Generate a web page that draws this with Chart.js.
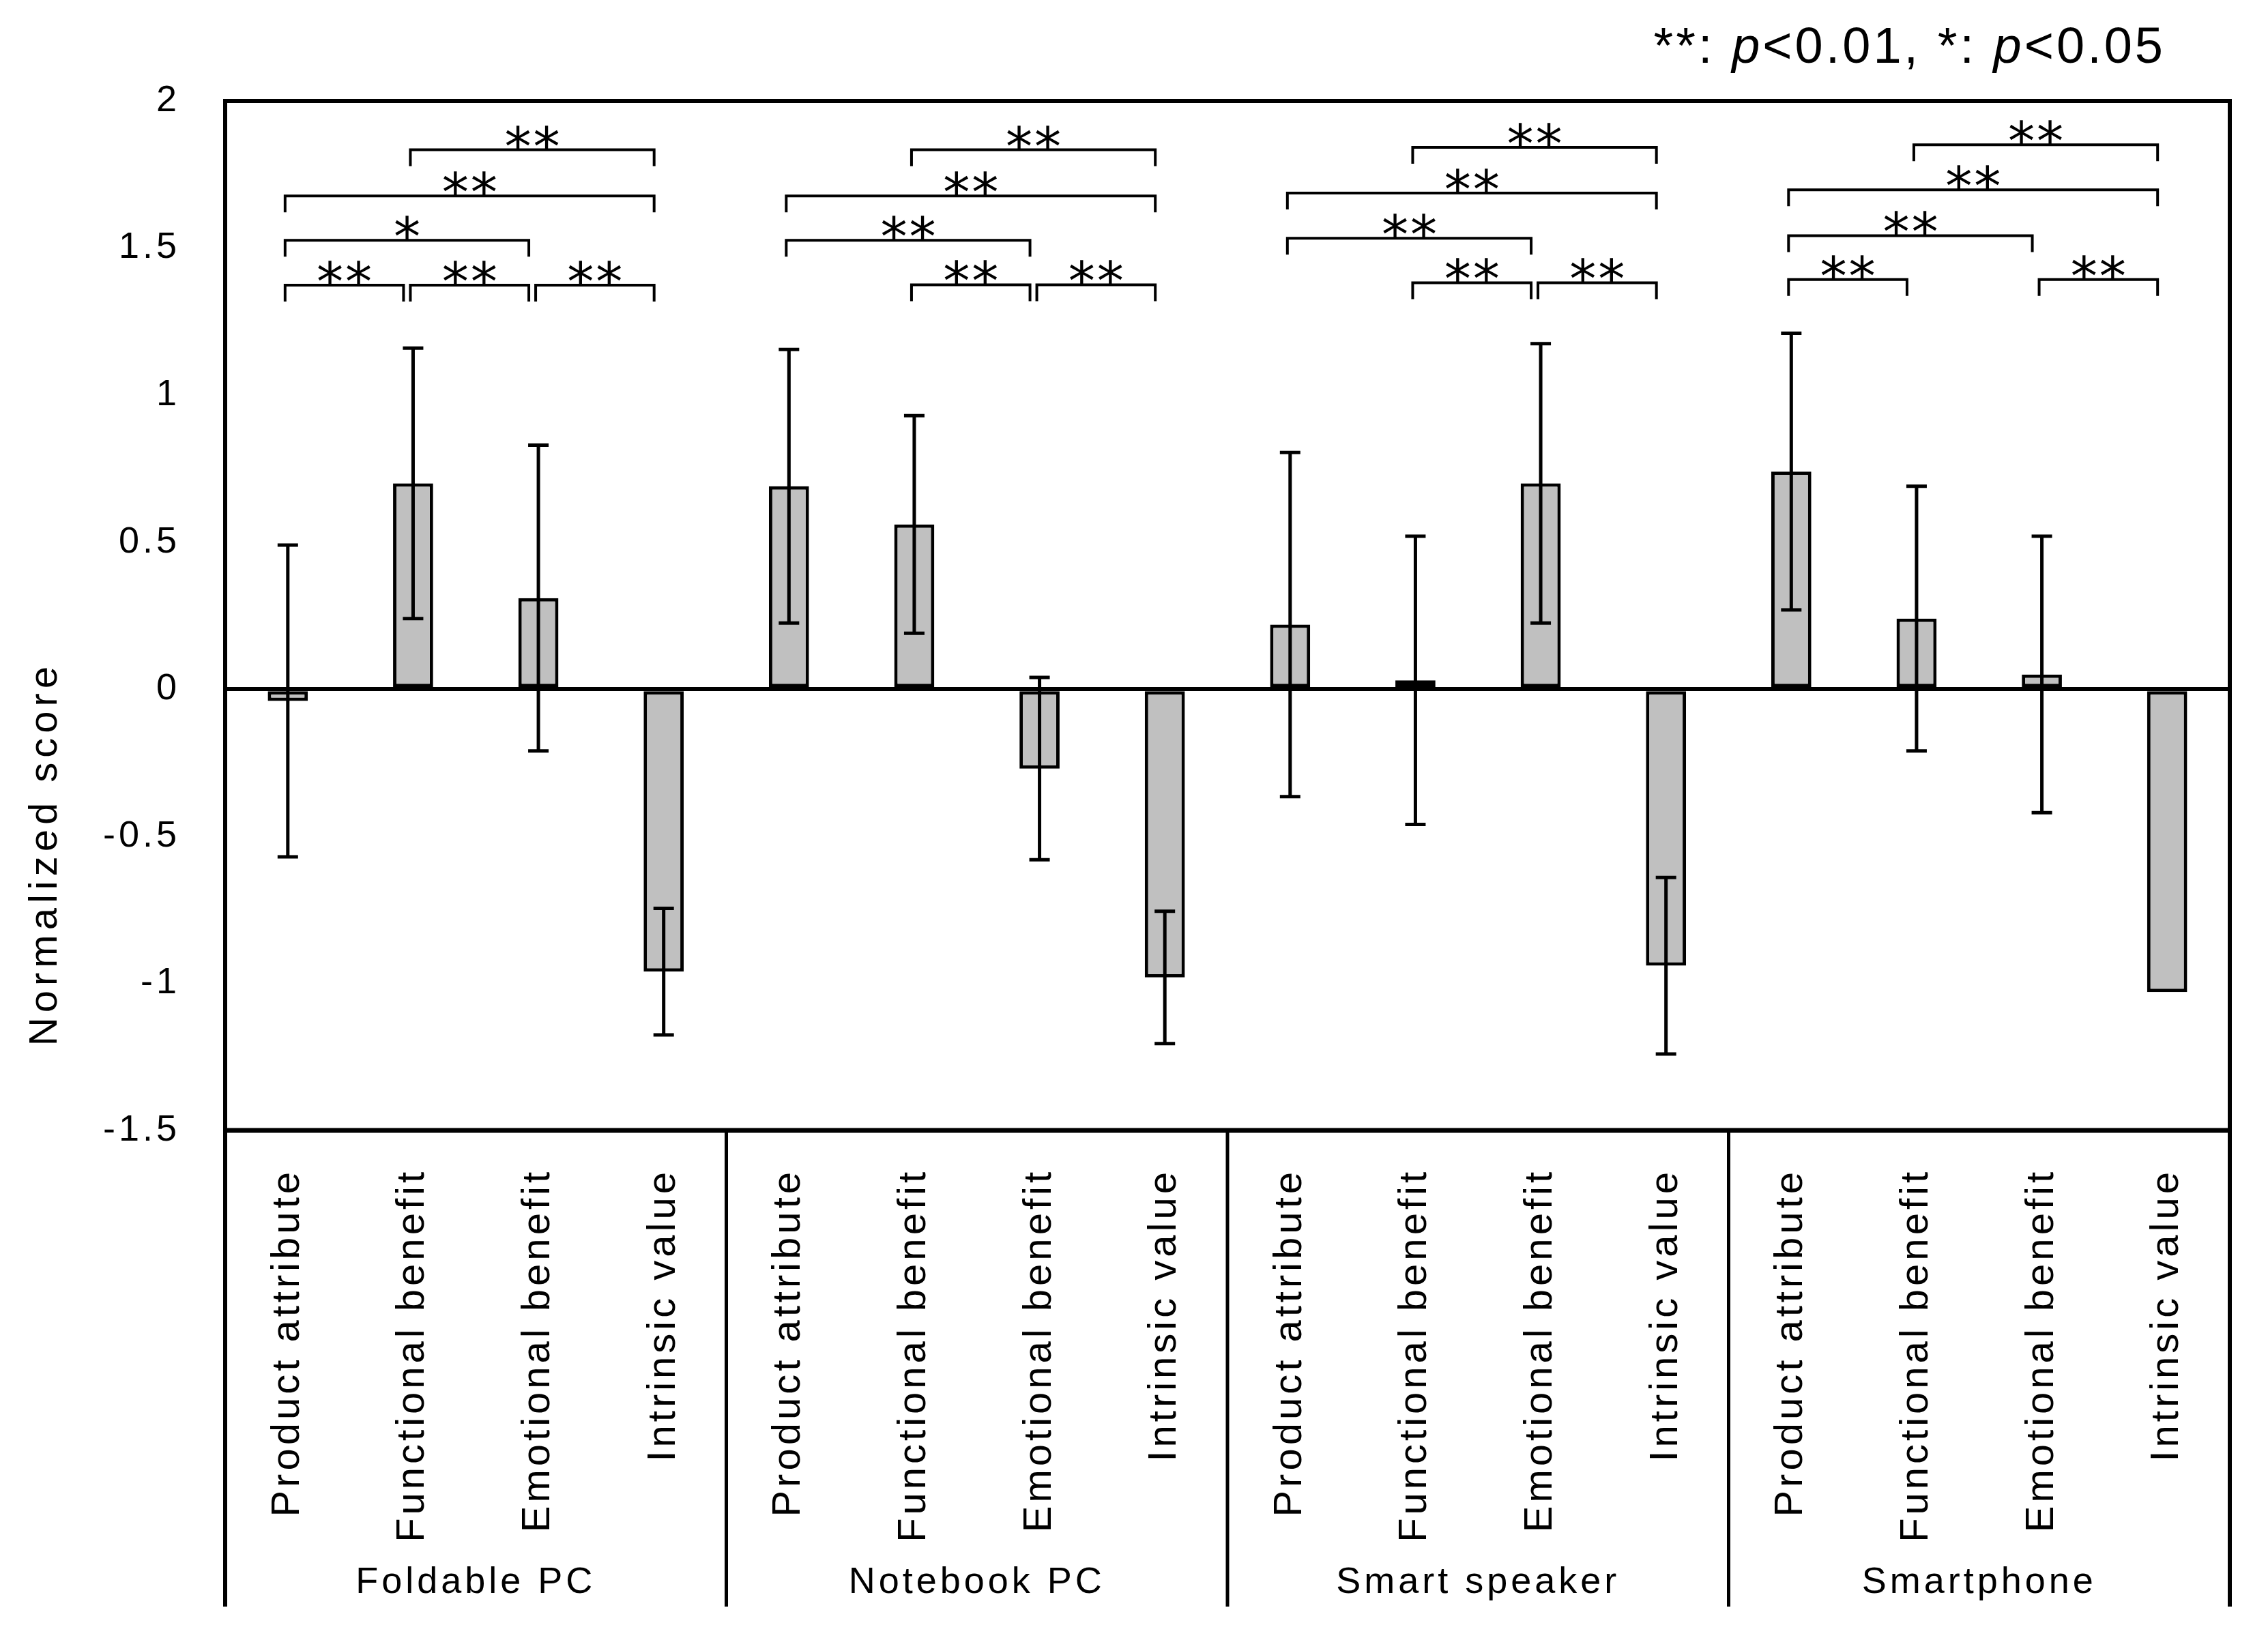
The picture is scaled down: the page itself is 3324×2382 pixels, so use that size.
<!DOCTYPE html>
<html>
<head>
<meta charset="utf-8">
<title>Normalized score</title>
<script src="https://cdn.jsdelivr.net/npm/chart.js@4.4.1/dist/chart.umd.min.js"></script>
<style>
    html, body { margin: 0; padding: 0; background: #fff; }
    #wrap { width: 3324px; height: 2382px; }
</style>
</head>
<body>
<div id="wrap"><canvas id="scoreChart" width="3324" height="2382"></canvas></div>
<script>
const groups = ['Foldable PC', 'Notebook PC', 'Smart speaker', 'Smartphone'];

const categories = ['Product attribute', 'Functional benefit', 'Emotional benefit', 'Intrinsic value'];

// mean normalized score, one per bar (group by group)
const meanScores = [
    -0.04, 0.70, 0.31, -0.96,
    0.69, 0.56, -0.27, -0.98,
    0.22, 0.03, 0.70, -0.94,
    0.74, 0.24, 0.05, -1.03
];

// error bar half length (null = no bar drawn)
const sdScores = [
    0.53, 0.46, 0.52, 0.215,
    0.465, 0.37, 0.31, 0.225,
    0.585, 0.49, 0.475, 0.30,
    0.47, 0.45, 0.47, null
];

const yTickLabels = ['-1.5', '-1', '-0.5', '0', '0.5', '1', '1.5', '2'];

// [from bar, to bar, height, mark]
const brackets = [
    [0, 1, 1.374, '**'], [1, 2, 1.374, '**'], [2, 3, 1.374, '**'],
    [0, 2, 1.526, '*'], [0, 3, 1.677, '**'], [1, 3, 1.834, '**'],
    [5, 6, 1.375, '**'], [6, 7, 1.375, '**'],
    [4, 6, 1.526, '**'], [4, 7, 1.677, '**'], [5, 7, 1.834, '**'],
    [9, 10, 1.382, '**'], [10, 11, 1.382, '**'],
    [8, 10, 1.533, '**'], [8, 11, 1.687, '**'], [9, 11, 1.842, '**'],
    [12, 13, 1.393, '**'], [14, 15, 1.393, '**'],
    [12, 14, 1.542, '**'], [12, 15, 1.698, '**'], [13, 15, 1.851, '**']
];

const yTitle = 'Normalized score';

// [text, italic]
const noteParts = [['**: ', false], ['p', true], ['<0.01, *: ', false], ['p', true], ['<0.05', false]];

const labels = groups.flatMap(() => categories);

const FONT = "'Liberation Sans', Arial, sans-serif";

const spacingPlugin = {
    id: 'spacing',
    beforeLayout(chart) {
        chart.ctx.letterSpacing = '5px';
    },
    beforeDraw(chart) {
        const ctx = chart.ctx;
        ctx.save();
        ctx.fillStyle = '#fff';
        ctx.fillRect(0, 0, chart.width, chart.height);
        ctx.restore();
        ctx.letterSpacing = '5px';
    }
};

const errorBarPlugin = {
    id: 'errorBars',
    afterDatasetsDraw(chart) {
        const ctx = chart.ctx;
        const y = chart.scales.y;
        const meta = chart.getDatasetMeta(0);

        ctx.save();
        ctx.strokeStyle = '#000';
        ctx.lineWidth = 5;

        meta.data.forEach((bar, i) => {
            const sd = sdScores[i];
            if (sd === null) {
                return;
            }
            const top = y.getPixelForValue(meanScores[i] + sd);
            const bottom = y.getPixelForValue(meanScores[i] - sd);
            ctx.beginPath();
            ctx.moveTo(bar.x, top);
            ctx.lineTo(bar.x, bottom);
            ctx.moveTo(bar.x - 15, top);
            ctx.lineTo(bar.x + 15, top);
            ctx.moveTo(bar.x - 15, bottom);
            ctx.lineTo(bar.x + 15, bottom);
            ctx.stroke();
        });

        ctx.restore();
    }
};

const framePlugin = {
    id: 'frame',
    afterDraw(chart) {
        const ctx = chart.ctx;
        const area = chart.chartArea;
        const x = chart.scales.x;
        const y = chart.scales.y;
        const lowest = chart.scales.x2.bottom;

        ctx.save();
        ctx.strokeStyle = '#000';
        ctx.fillStyle = '#000';
        ctx.lineCap = 'butt';

        // outer frame
        ctx.lineWidth = 6;
        ctx.beginPath();
        ctx.moveTo(area.left, lowest);
        ctx.lineTo(area.left, area.top);
        ctx.lineTo(area.right, area.top);
        ctx.lineTo(area.right, lowest);
        ctx.stroke();

        ctx.lineWidth = 7;
        ctx.beginPath();
        ctx.moveTo(area.left, area.bottom);
        ctx.lineTo(area.right, area.bottom);
        ctx.stroke();

        // group dividers
        ctx.lineWidth = 5;
        ctx.beginPath();
        for (let g = 1; g < groups.length; g++) {
            const px = x.getPixelForValue(g * categories.length - 0.5);
            ctx.moveTo(px, area.bottom);
            ctx.lineTo(px, lowest);
        }
        ctx.stroke();

        // significance brackets
        ctx.letterSpacing = '0px';
        ctx.font = "100px 'DejaVu Sans'";
        const probe = ctx.measureText('*');
        const starSize = 100 * 36 / (probe.actualBoundingBoxAscent + probe.actualBoundingBoxDescent);
        ctx.font = starSize + "px 'DejaVu Sans'";
        const star = ctx.measureText('*');
        ctx.textAlign = 'center';
        ctx.textBaseline = 'alphabetic';

        ctx.lineWidth = 4;
        brackets.forEach(([from, to, level, mark]) => {
            const x1 = x.getPixelForValue(from) - 4;
            const x2 = x.getPixelForValue(to) - 14;
            const py = y.getPixelForValue(level);
            ctx.beginPath();
            ctx.moveTo(x1, py + 24);
            ctx.lineTo(x1, py);
            ctx.lineTo(x2, py);
            ctx.lineTo(x2, py + 24);
            ctx.stroke();

            const chars = mark.split('');
            const mid = (x1 + x2) / 2;
            chars.forEach((ch, k) => {
                const cx = mid + (k - (chars.length - 1) / 2) * 42;
                ctx.fillText(ch, cx, py - star.actualBoundingBoxDescent);
            });
        });

        // y axis title
        ctx.save();
        ctx.translate(67, (area.top + lowest) / 2);
        ctx.rotate(-Math.PI / 2);
        ctx.letterSpacing = '7px';
        ctx.font = '58px ' + FONT;
        ctx.textAlign = 'center';
        ctx.textBaseline = 'middle';
        ctx.fillText(yTitle, 0, 0);
        ctx.restore();

        // p value note
        ctx.letterSpacing = '4px';
        ctx.textAlign = 'left';
        ctx.textBaseline = 'alphabetic';
        const fonts = noteParts.map(([, italic]) => (italic ? 'italic ' : '') + '74px ' + FONT);
        let total = 0;
        noteParts.forEach(([text], i) => {
            ctx.font = fonts[i];
            total += ctx.measureText(text).width;
        });
        let nx = 3174 - total;
        noteParts.forEach(([text], i) => {
            ctx.font = fonts[i];
            ctx.fillText(text, nx, 92);
            nx += ctx.measureText(text).width;
        });

        ctx.restore();
    }
};

new Chart(document.getElementById('scoreChart'), {

    type: 'bar',

    data: {
        labels: labels,
        datasets: [{
                data: meanScores,
                backgroundColor: '#c0c0c0',
                borderColor: '#000',
                borderWidth: 5,
                borderSkipped: false,
                barPercentage: 0.32,
                categoryPercentage: 1
            }]
    },

    options: {

        responsive: false,
        animation: false,
        devicePixelRatio: 1,

        layout: {
            padding: { left: 0, top: 148, right: 56, bottom: 27 }
        },

        plugins: {
            legend: { display: false },
            tooltip: { enabled: false }
        },

        scales: {

            y: {
                min: -1.5,
                max: 2,
                afterFit: (scale) => { scale.width = 330; },
                ticks: {
                    stepSize: 0.5,
                    padding: 66,
                    color: '#000',
                    font: { family: FONT, size: 54 },
                    callback: (value, index) => yTickLabels[index]
                },
                grid: {
                    drawTicks: false,
                    lineWidth: 6,
                    color: (c) => (c.tick && c.tick.value === 0) ? '#000' : 'rgba(0,0,0,0)'
                },
                border: { display: false }
            },

            x: {
                weight: 0,
                afterFit: (scale) => { scale.height = 613; },
                ticks: {
                    autoSkip: false,
                    minRotation: 90,
                    maxRotation: 90,
                    padding: 48,
                    color: '#000',
                    font: { family: FONT, size: 58 }
                },
                grid: { display: false },
                border: { display: false }
            },

            x2: {
                type: 'category',
                labels: groups,
                position: 'bottom',
                offset: true,
                weight: 1,
                afterFit: (scale) => { scale.height = 85; },
                ticks: {
                    padding: 10,
                    color: '#000',
                    font: { family: FONT, size: 54 }
                },
                grid: { display: false },
                border: { display: false }
            }
        }
    },

    plugins: [spacingPlugin, errorBarPlugin, framePlugin]
});
</script>
</body>
</html>
